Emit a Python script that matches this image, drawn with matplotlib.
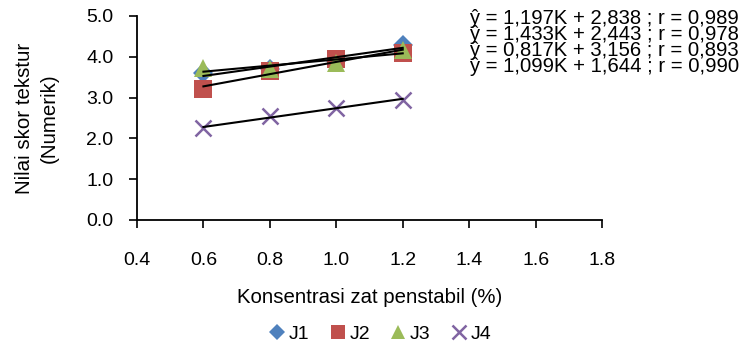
import numpy as np
import matplotlib
matplotlib.use('Agg')
import matplotlib.pyplot as plt

plt.rcParams['font.family'] = ['Liberation Sans', 'DejaVu Sans']

konsentrasi = [0.6, 0.8, 1.0, 1.2]
j1 = [3.6, 3.7, 3.9, 4.3]
j2 = [3.2, 3.65, 3.95, 4.1]
j3 = [3.72, 3.7, 3.85, 4.17]
j4 = [2.25, 2.55, 2.75, 2.95]

equations = [
	'ŷ = 1,197K + 2,838 ; r = 0,989',
	'ŷ = 1,433K + 2,443 ; r = 0,978',
	'ŷ = 0,817K + 3,156 ; r = 0,893',
	'ŷ = 1,099K + 1,644 ; r = 0,990',
]

series = [
	('J1', j1, 'D', '#4F81BD', 10),
	('J2', j2, 's', '#C0504D', 13),
	('J3', j3, '^', '#9BBB59', 13),
	('J4', j4, 'x', '#8064A2', 12),
]

fig = plt.figure(figsize=(7.43, 3.45), dpi=100)
ax = fig.add_axes([137/743, 1 - 220/345, (602-137)/743, (220-16)/345])

x = np.array(konsentrasi)
for name, vals, mk, col, ms in series:
	if mk == 'x':
		ax.plot(x, vals, linestyle='none', marker=mk, color=col, markersize=ms,
			markeredgewidth=1.8, label=name, zorder=3)
	else:
		ax.plot(x, vals, linestyle='none', marker=mk, color=col, markersize=ms,
			markeredgewidth=0, label=name, zorder=3)

# trendlines
for name, vals, mk, col, ms in series:
	a, b = np.polyfit(x, vals, 1)
	ax.plot(x[[0, -1]], a * x[[0, -1]] + b, color='black', linewidth=1.5, zorder=4)

xt = np.arange(0.4, 1.81, 0.2)
yt = np.arange(0, 5.01, 1.0)
ax.set_xlim(0.4, 1.8)
ax.set_ylim(0, 5)
ax.set_xticks(xt)
ax.set_yticks(yt)
ax.set_xticklabels(['%.1f' % v for v in xt])
ax.set_yticklabels(['%.1f' % v for v in yt])
ax.tick_params(labelsize=14, length=6, width=1.2, direction='out')
ax.tick_params(axis='x', pad=17)
ax.tick_params(axis='y', pad=11)
for s in ['top', 'right']:
	ax.spines[s].set_visible(False)
for s in ['left', 'bottom']:
	ax.spines[s].set_linewidth(1.3)

ax.set_xlabel('Konsentrasi zat penstabil (%)', fontsize=14.7, labelpad=14)
ax.set_ylabel('Nilai skor tekstur\n(Numerik)', fontsize=14.8, labelpad=20, linespacing=1.35)

for i, eq in enumerate(equations):
	fig.text(470/743, 1 - (19 + 16 * i)/345, eq, fontsize=14.6, va='center', ha='left')

ax.legend(loc='center', bbox_to_anchor=(0.52, -0.56), ncol=4, frameon=False,
	fontsize=14, handletextpad=0.05, columnspacing=0.9, handlelength=1.1, markerscale=0.8)

fig.savefig('out.png', dpi=100)
